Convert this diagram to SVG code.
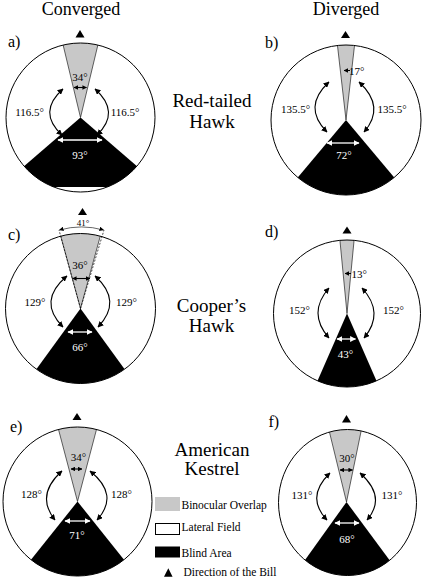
<svg xmlns="http://www.w3.org/2000/svg" width="425" height="581" viewBox="0 0 425 581">
<style>
text{font-family:"Liberation Serif","Times New Roman",serif;fill:#000}
.title{font-size:18px;text-anchor:middle}
.sp{font-size:19px;text-anchor:middle}
.pl{font-size:16px}
.lb{font-size:11px;text-anchor:middle}
.lbs{font-size:11px}
.wl{font-size:11px;text-anchor:middle;fill:#fff}
.lg{font-size:11.5px}
.ring{fill:none;stroke:#000;stroke-width:1}
.bino{fill:#c8c8c8;stroke:#000;stroke-width:0.6}
.blind{fill:#000}
.bg{fill:#fff}
.curve{fill:none;stroke:#000;stroke-width:1.1;marker-start:url(#ah);marker-end:url(#ah)}
.dbl{fill:none;stroke:#000;stroke-width:1.1;marker-start:url(#ahs);marker-end:url(#ahs)}
.one{fill:none;stroke:#000;stroke-width:1;marker-end:url(#ahs)}
.wdbl{fill:none;stroke:#fff;stroke-width:1.3;marker-start:url(#ahw);marker-end:url(#ahw)}
.dash{fill:none;stroke:#000;stroke-width:0.7;stroke-dasharray:2 1.5}
.arc41{fill:none;stroke:#000;stroke-width:0.6;marker-start:url(#ahs);marker-end:url(#ahs)}
</style>
<defs>
<marker id="ah" viewBox="0 0 10 10" refX="9" refY="5" markerWidth="6" markerHeight="6" markerUnits="userSpaceOnUse" orient="auto-start-reverse"><path d="M0,0 L10,5 L0,10 Z" fill="#000"/></marker>
<marker id="ahs" viewBox="0 0 10 10" refX="9" refY="5" markerWidth="4.5" markerHeight="4.5" markerUnits="userSpaceOnUse" orient="auto-start-reverse"><path d="M0,0 L10,5 L0,10 Z" fill="#000"/></marker>
<marker id="ahw" viewBox="0 0 10 10" refX="9" refY="5" markerWidth="6" markerHeight="6" markerUnits="userSpaceOnUse" orient="auto-start-reverse"><path d="M0,0 L10,5 L0,10 Z" fill="#fff"/></marker>
<clipPath id="ca"><circle cx="80.5" cy="117.5" r="74.5"/></clipPath>
<clipPath id="cb"><circle cx="346" cy="120" r="75"/></clipPath>
<clipPath id="cc"><circle cx="80.5" cy="308.5" r="75"/></clipPath>
<clipPath id="cd"><circle cx="347" cy="313.5" r="73.5"/></clipPath>
<clipPath id="ce"><circle cx="77.5" cy="501.5" r="74.5"/></clipPath>
<clipPath id="cf"><ellipse cx="347.5" cy="502.5" rx="69" ry="73"/></clipPath>
</defs>
<rect width="425" height="581" fill="#fff"/>

<g id="headers">
<text class="title" x="81" y="15">Converged</text>
<text class="title" x="346" y="15">Diverged</text>
</g>
<g id="species">
<text class="sp" x="212" y="107">Red-tailed</text>
<text class="sp" x="212" y="128">Hawk</text>
<text class="sp" x="211.5" y="311.5">Cooper’s</text>
<text class="sp" x="211.5" y="331.5">Hawk</text>
<text class="sp" x="212" y="456">American</text>
<text class="sp" x="212" y="475">Kestrel</text>
</g>

<g id="panel-a">
<text class="pl" x="8" y="47">a)</text>
<path d="M80,30 L75.5,37.5 L84.5,37.5 Z"/>
<g clip-path="url(#ca)">
<path class="bino" d="M80.5,117.5 L60,32 L101,32 Z"/>
<path class="blind" d="M80.5,117.5 L0,187 L161,187 Z"/>
</g>
<circle class="ring" cx="80.5" cy="117.5" r="74.5"/>
<text class="lb" x="80" y="81">34°</text>
<text class="lb" x="29.5" y="116">116.5°</text>
<text class="lb" x="125" y="116">116.5°</text>
<text class="wl" x="80" y="159">93°</text>
</g>

<g id="panel-b">
<text class="pl" x="265" y="48">b)</text>
<path d="M345.5,31 L341,38 L350,38 Z"/>
<g clip-path="url(#cb)">
<path class="bino" d="M346,120 L336.5,37 L355.5,37 Z"/>
<path class="blind" d="M346,120 L275,204.6 L417,204.6 Z"/>
</g>
<circle class="ring" cx="346" cy="120" r="75"/>
<text class="lbs" x="349" y="75">17°</text>
<text class="lb" x="295.5" y="112.5">135.5°</text>
<text class="lb" x="392" y="112.5">135.5°</text>
<text class="wl" x="344" y="159">72°</text>
</g>

<g id="panel-c">
<text class="pl" x="8" y="240">c)</text>
<path d="M82.5,208 L78,215 L87,215 Z"/>
<g clip-path="url(#cc)">
<path class="bino" d="M80.5,308.5 L58.5,228 L102.5,228 Z"/>
<path class="blind" d="M80.5,308.5 L22,389 L139,389 Z"/>
</g>
<circle class="ring" cx="80.5" cy="308.5" r="75"/>
<text style="font-size:9px;text-anchor:middle" x="83" y="225.5">41°</text>
<text class="lb" x="80" y="269">36°</text>
<text class="lb" x="35" y="306">129°</text>
<text class="lb" x="126.5" y="306">129°</text>
<text class="wl" x="80" y="351">66°</text>
</g>

<g id="panel-d">
<text class="pl" x="265" y="237">d)</text>
<path d="M347,226.5 L342.5,233.5 L351.5,233.5 Z"/>
<g clip-path="url(#cd)">
<path class="bino" d="M347,313.5 L339.5,236 L354.5,236 Z"/>
<path class="blind" d="M347,313.5 L310,398 L384,398 Z"/>
</g>
<circle class="ring" cx="347" cy="313.5" r="73.5"/>
<text class="lbs" x="351.5" y="277.5">13°</text>
<text class="lb" x="299.5" y="313.5">152°</text>
<text class="lb" x="393.5" y="313.5">152°</text>
<text class="wl" x="345.5" y="357.5">43°</text>
</g>

<g id="panel-e">
<text class="pl" x="10" y="431.5">e)</text>
<path d="M77,413 L72.5,420 L81.5,420 Z"/>
<g clip-path="url(#ce)">
<path class="bino" d="M77.5,501.5 L56,420 L99,420 Z"/>
<path class="blind" d="M77.5,501.5 L14,581 L141,581 Z"/>
</g>
<circle class="ring" cx="77.5" cy="501.5" r="74.5"/>
<text class="lb" x="78.5" y="461">34°</text>
<text class="lb" x="31.5" y="497.5">128°</text>
<text class="lb" x="121.5" y="497.5">128°</text>
<text class="wl" x="77" y="539">71°</text>
</g>

<g id="panel-f">
<text class="pl" x="268.5" y="426.5">f)</text>
<path d="M346.5,415 L342,422.5 L351,422.5 Z"/>
<g clip-path="url(#cf)">
<path class="bino" d="M346.5,502 L327,422 L363,422 Z"/>
<path class="blind" d="M346.5,502 L290,581 L405,581 Z"/>
</g>
<ellipse class="ring" cx="347.5" cy="502.5" rx="69" ry="73"/>
<text class="lb" x="347" y="462">30°</text>
<text class="lb" x="302" y="498.5">131°</text>
<text class="lb" x="392" y="498.5">131°</text>
<text class="wl" x="347" y="542.5">68°</text>
</g>

<g id="connectors">
<path class="curve" d="M63,89 Q37,112 62,135"/>
<path class="curve" d="M95,89 Q121,112 97,135"/>
<path class="dbl" d="M74,87.5 H86.5"/>
<path class="wdbl" d="M58,140 H102"/>

<path class="curve" d="M329,82 Q302,107 327,132"/>
<path class="curve" d="M359,82 Q386,107 364,132"/>
<path class="one" d="M350,70.5 H344"/>
<path class="wdbl" d="M327,143 H359"/>

<path class="dash" d="M80.5,308.5 L59,230"/>
<path class="dash" d="M80.5,308.5 L104,230"/>
<path class="arc41" d="M59.5,230 A81.4,81.4 0 0 1 103.5,230"/>
<path class="curve" d="M67,276 Q37,301 63,327"/>
<path class="curve" d="M95,276 Q123,301 98,327"/>
<path class="dbl" d="M72.5,278.5 H90"/>
<path class="wdbl" d="M68,332 H92"/>

<path class="curve" d="M329,288 Q307,313 329,338"/>
<path class="curve" d="M362,288 Q385,313 364,338"/>
<path class="one" d="M351,273.5 H345"/>
<path class="wdbl" d="M337,339 H355.5"/>

<path class="curve" d="M62,471 Q35,495 55,520"/>
<path class="curve" d="M90,471 Q120,495 97,520"/>
<path class="dbl" d="M71,469 H82"/>
<path class="wdbl" d="M65,521 H90"/>

<path class="curve" d="M330,473 Q305,497 327,520"/>
<path class="curve" d="M360,473 Q387,497 367,520"/>
<path class="dbl" d="M340,470 H352.5"/>
<path class="wdbl" d="M335,523 H359"/>
</g>

<g id="legend">
<rect x="155" y="497" width="25" height="14" fill="#c8c8c8"/>
<text class="lg" x="181.5" y="509">Binocular Overlap</text>
<rect x="155.5" y="523.5" width="24" height="11" fill="#fff" stroke="#000" stroke-width="1"/>
<text class="lg" x="181.5" y="531">Lateral Field</text>
<rect x="155" y="546.5" width="25" height="11" fill="#000"/>
<text class="lg" x="181.5" y="557">Blind Area</text>
<path d="M168.3,568.3 L164,576.7 L172.6,576.7 Z"/>
<text class="lg" x="183.5" y="576">Direction of the Bill</text>
</g>
</svg>
